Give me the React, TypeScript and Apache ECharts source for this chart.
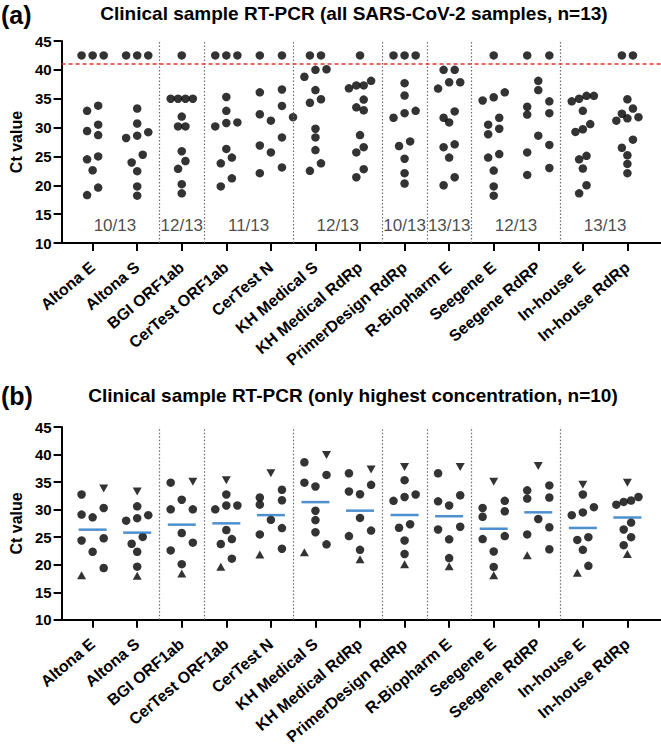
import React, { useEffect, useRef } from 'react';
import * as echarts from 'echarts';

// ---------------- data ----------------
const categories = [
  'Altona E', 'Altona S', 'BGI ORF1ab', 'CerTest ORF1ab', 'CerTest N', 'KH Medical S',
  'KH Medical RdRp', 'PrimerDesign RdRp', 'R-Biopharm E', 'Seegene E', 'Seegene RdRP',
  'In-house E', 'In-house RdRp',
];

// manufacturer groups (number of assays per group) and their detection labels
const groupSizes = [2, 1, 2, 2, 1, 1, 2, 2];
const groupLabels = ['10/13', '12/13', '11/13', '12/13', '10/13', '13/13', '12/13', '13/13'];

const titleA = 'Clinical sample RT-PCR (all SARS-CoV-2 samples, n=13)';
const titleB = 'Clinical sample RT-PCR (only highest concentration, n=10)';
const yTicks = { min: 10, max: 45, interval: 5 };

const cutoffCt = 41;
const notDetectedCt = 42.5;
const notDetectedCounts = [3, 3, 1, 3, 2, 2, 1, 3, 0, 1, 2, 0, 2];

// panel (a): detected Ct values of all samples
const altonaE = [33.8, 32.9, 30.5, 29.4, 28.7, 25.0, 24.5, 22.6, 19.6, 18.3];
const altonaS = [33.3, 30.7, 29.2, 28.6, 28.2, 25.3, 23.95, 22.45, 19.8, 18.2];
const bgiOrf = [35, 35, 35, 35, 31.9, 30.2, 30.2, 25.9, 24.2, 22.85, 20.2, 18.6];
const cerTestOrf = [35.3, 32.9, 30.9, 30.8, 30.2, 26.3, 24.8, 23.8, 21.2, 19.8];
const cerTestN = [36.6, 36.1, 33.75, 32.3, 31.8, 31.2, 28.3, 26.9, 25.7, 23.1, 22.1];
const khS = [40.1, 40.0, 38.8, 36.5, 34.9, 34.3, 29.8, 28.3, 26.1, 23.8, 22.5];
const khRdRp = [38.1, 37.3, 37.3, 36.8, 34.85, 33.5, 33.0, 28.7, 26.6, 25.7, 22.8, 21.4];
const primerDesign = [37.7, 35.55, 32.9, 32.5, 31.7, 27.6, 26.8, 24.6, 22.1, 20.3];
const rBiopharm = [40.0, 40.0, 37.85, 37.85, 36.75, 32.8, 31.7, 30.9, 27.1, 26.6, 24.8, 21.4, 20.0];
const seegeneE = [36.1, 35.25, 34.7, 31.7, 30.5, 29.8, 28.85, 25.4, 24.8, 22.55, 19.8, 18.2];
const seegeneRdRP = [38.1, 36.5, 34.55, 33.6, 32.5, 32.25, 28.6, 27.0, 25.7, 23.0, 21.8];
const inHouseE = [35.5, 35.5, 35.0, 34.55, 32.9, 30.6, 29.7, 29.25, 25.1, 24.5, 22.9, 20.0, 18.6];
const inHouseRdRp = [34.9, 33.3, 32.4, 31.8, 31.6, 31.2, 27.9, 26.5, 25.2, 23.7, 22.1];
const allSamples = [altonaE, altonaS, bgiOrf, cerTestOrf, cerTestN, khS, khRdRp, primerDesign,
  rBiopharm, seegeneE, seegeneRdRP, inHouseE, inHouseRdRp];

// panel (b): highest concentration only
const highDown = [33.85, 33.3, 35.05, 35.35, 36.6, 39.9, 37.3, 37.75, 37.75, 35.05, 37.9, 34.5, 34.9]; // ▼ sample
const highUp = [18.1, 18.0, 18.4, 19.65, 21.85, 22.25, 21.0, 20.1, 19.7, 18.1, 21.7, 18.55, 21.95]; // ▲ sample
const highCircles = [
  [32.75, 30.3, 29.1, 28.6, 24.8, 24.4, 22.35, 19.4],
  [30.6, 29.0, 28.45, 28.0, 25.05, 23.8, 22.35, 19.65],
  [34.9, 31.8, 30.05, 30.05, 25.75, 24.0, 22.6, 20.1],
  [32.75, 30.75, 30.75, 30.05, 26.3, 24.65, 23.75, 21.1],
  [33.6, 32.2, 31.7, 30.9, 28.15, 26.65, 25.5, 22.9],
  [38.6, 36.3, 34.9, 34.2, 29.8, 28.1, 25.9, 23.7],
  [36.6, 34.5, 33.3, 32.8, 28.5, 26.2, 25.2, 22.7],
  [35.35, 32.75, 32.3, 31.6, 27.35, 26.7, 24.4, 21.95],
  [36.6, 32.6, 31.5, 30.75, 26.9, 26.4, 24.6, 21.2],
  [31.6, 30.3, 29.7, 28.7, 25.2, 24.65, 22.4, 19.6],
  [34.4, 33.5, 32.2, 32.0, 28.3, 26.8, 25.5, 22.8],
  [32.75, 30.45, 29.5, 29.0, 25.0, 24.5, 22.7, 19.8],
  [32.3, 31.65, 31.4, 30.9, 27.65, 26.4, 25.0, 23.55],
];

// ---------------- layout ----------------
const W = 661;
const H = 747;
const GRID_LEFT = 49;
const GRID_WIDTH = W - GRID_LEFT;
const CAT_PX = 45.5; // px between category centres
const FIRST_CAT_PX = 80.7;
const X_MIN = -(FIRST_CAT_PX - GRID_LEFT) / CAT_PX;
const X_MAX = X_MIN + GRID_WIDTH / CAT_PX;
const GRID_A = { top: 41, height: 202 };
const GRID_B = { top: 427, height: 204 };
const FONT = '"Liberation Sans", Arial, Helvetica, sans-serif';
const SWARM_WIDTH = 22.6;
const JOIN_PX = 8.6;
const MIN_DIST = 7;

// GraphPad-like column scatter: returns pixel offsets for each value
function beeswarm(values: number[], pxPerUnit: number): number[] {
  const order = values.map((_, i) => i).sort((a, b) => values[b] - values[a]);
  const rows: number[][] = [];
  for (const i of order) {
    const row = rows[rows.length - 1];
    if (row && (values[row[0]] - values[i]) * pxPerUnit < JOIN_PX) row.push(i);
    else rows.push([i]);
  }
  const maxN = Math.max(...rows.map((r) => r.length));
  const step = maxN > 1 ? SWARM_WIDTH / (maxN - 1) : SWARM_WIDTH / 2;
  const h = step / 2;
  const off = new Array(values.length).fill(0);
  const placed: number[] = [];
  for (const row of rows) {
    const asc = [...row].sort((a, b) => values[a] - values[b]);
    const desc = [...asc].reverse();
    const base = asc.map((_, k) => (k - (asc.length - 1) / 2) * step);
    let best = { r: asc, s: 0, d: -1 };
    outer: for (const s of [0, h, -h, 2 * h, -2 * h]) {
      for (const r of [asc, desc]) {
        let d = Infinity;
        r.forEach((idx, k) => {
          placed.forEach((p) => {
            d = Math.min(d, Math.hypot(base[k] + s - off[p], (values[idx] - values[p]) * pxPerUnit));
          });
        });
        if (d > best.d) best = { r, s, d };
        if (d >= MIN_DIST) break outer;
      }
    }
    best.r.forEach((idx, k) => { off[idx] = base[k] + best.s; placed.push(idx); });
  }
  return off;
}

function buildOption() {
  const pxPerIdx = GRID_WIDTH / (X_MAX - X_MIN);
  const pxA = GRID_A.height / (yTicks.max - yTicks.min);
  const pxB = GRID_B.height / (yTicks.max - yTicks.min);

  // panel a points
  const ptsA: number[][] = [];
  allSamples.forEach((vals, i) => {
    const full = [...vals, ...new Array(notDetectedCounts[i]).fill(notDetectedCt)];
    const off = beeswarm(full, pxA);
    full.forEach((v, k) => ptsA.push([i + off[k] / pxPerIdx, v]));
  });

  // panel b points
  const circB: number[][] = [];
  const downB: number[][] = [];
  const upB: number[][] = [];
  const meanB: number[][] = [];
  highCircles.forEach((vals, i) => {
    const full = [...vals, highDown[i], highUp[i]];
    const off = beeswarm(full, pxB);
    vals.forEach((v, k) => circB.push([i + off[k] / pxPerIdx, v]));
    downB.push([i + off[vals.length] / pxPerIdx, highDown[i]]);
    upB.push([i + off[vals.length + 1] / pxPerIdx, highUp[i]]);
    meanB.push([i, full.reduce((a, b) => a + b, 0) / full.length]);
  });

  // separators & group label centres
  const separators: number[] = [];
  const labelPts: any[] = [];
  let start = 0;
  groupSizes.forEach((n, g) => {
    labelPts.push({ value: [start + (n - 1) / 2, 13], name: groupLabels[g] });
    start += n;
    if (g < groupSizes.length - 1) separators.push(start - 0.5);
  });

  const sepLines = separators.map((x) => ({
    xAxis: x, lineStyle: { color: '#6b6b6b', type: [1.5, 2], width: 1.2 },
  }));

  const catIdx = categories.map((_, i) => i);
  const xAxisCommon = (gridIndex: number) => ({
    type: 'value', gridIndex, min: X_MIN, max: X_MAX,
    axisLine: { show: true, onZero: false, lineStyle: { color: '#000', width: 2 } },
    axisTick: { show: true, customValues: catIdx, length: 8, lineStyle: { color: '#000', width: 2 } },
    axisLabel: {
      show: true, customValues: catIdx, rotate: 40, margin: 22,
      formatter: (v: number) => categories[Math.round(v)] ?? '',
      color: '#000', fontWeight: 'bold', fontSize: 16, fontFamily: FONT,
    },
    splitLine: { show: false },
  });
  const yAxisCommon = (gridIndex: number) => ({
    type: 'value', gridIndex, min: yTicks.min, max: yTicks.max, interval: yTicks.interval,
    name: 'Ct value', nameLocation: 'middle', nameGap: 33,
    nameTextStyle: { color: '#000', fontWeight: 'bold', fontSize: 16, fontFamily: FONT },
    axisLine: { show: true, onZero: false, lineStyle: { color: '#000', width: 2 } },
    axisTick: { show: true, length: 8, lineStyle: { color: '#000', width: 2 } },
    axisLabel: { color: '#000', fontWeight: 'bold', fontSize: 15, fontFamily: FONT, margin: 10 },
    splitLine: { show: false },
  });

  const dotColor = '#000';
  return {
    animation: false,
    backgroundColor: '#fff',
    grid: [
      { left: GRID_LEFT, width: GRID_WIDTH, top: GRID_A.top, height: GRID_A.height },
      { left: GRID_LEFT, width: GRID_WIDTH, top: GRID_B.top, height: GRID_B.height },
    ],
    xAxis: [xAxisCommon(0), xAxisCommon(1)],
    yAxis: [yAxisCommon(0), yAxisCommon(1)],
    graphic: [
      { type: 'text', x: 1, y: 15, style: { text: '(a)', font: `bold 25px ${FONT}`, fill: '#000', textVerticalAlign: 'middle' } },
      { type: 'text', x: 354, y: 13, style: { text: titleA, font: `bold 19px ${FONT}`, fill: '#000', textAlign: 'center', textVerticalAlign: 'middle' } },
      { type: 'text', x: 1, y: 396, style: { text: '(b)', font: `bold 25px ${FONT}`, fill: '#000', textVerticalAlign: 'middle' } },
      { type: 'text', x: 353, y: 395, style: { text: titleB, font: `bold 19px ${FONT}`, fill: '#000', textAlign: 'center', textVerticalAlign: 'middle' } },
    ],
    series: [
      {
        type: 'scatter', xAxisIndex: 0, yAxisIndex: 0, data: ptsA, symbol: 'circle', symbolSize: 8.5,
        itemStyle: { color: dotColor }, z: 3,
        markLine: {
          silent: true, symbol: ['none', 'none'], label: { show: false }, animation: false,
          data: [
            ...sepLines,
            { yAxis: cutoffCt, lineStyle: { color: '#e53228', type: [4, 3], width: 1.5 } },
          ],
        },
      },
      {
        type: 'scatter', xAxisIndex: 0, yAxisIndex: 0, data: labelPts, symbolSize: 0, silent: true,
        label: {
          show: true, position: 'inside', formatter: (p: any) => p.name,
          color: '#1a1a1a', fontSize: 17, fontFamily: FONT,
        },
      },
      {
        type: 'scatter', xAxisIndex: 1, yAxisIndex: 1, data: circB, symbol: 'circle', symbolSize: 8.5,
        itemStyle: { color: dotColor }, z: 3,
        markLine: {
          silent: true, symbol: ['none', 'none'], label: { show: false }, animation: false,
          data: sepLines,
        },
      },
      {
        type: 'scatter', xAxisIndex: 1, yAxisIndex: 1, data: downB, symbol: 'triangle', symbolRotate: 180,
        symbolSize: [9, 8], itemStyle: { color: dotColor }, z: 3,
      },
      {
        type: 'scatter', xAxisIndex: 1, yAxisIndex: 1, data: upB, symbol: 'triangle',
        symbolSize: [9, 8], itemStyle: { color: dotColor }, z: 3,
      },
      {
        type: 'scatter', xAxisIndex: 1, yAxisIndex: 1, data: meanB, symbol: 'rect',
        symbolSize: [28, 2.5], itemStyle: { color: '#2273c3' }, z: 4,
      },
    ],
  };
}

export default function App() {
  const ref = useRef<HTMLDivElement>(null);
  useEffect(() => {
    if (!ref.current) return;
    const chart = echarts.init(ref.current, undefined, { renderer: 'svg', width: W, height: H });
    chart.setOption(buildOption() as any);
    return () => chart.dispose();
  }, []);
  return <div ref={ref} style={{ position: 'fixed', left: 0, top: 0, width: W, height: H, background: '#fff' }} />;
}
